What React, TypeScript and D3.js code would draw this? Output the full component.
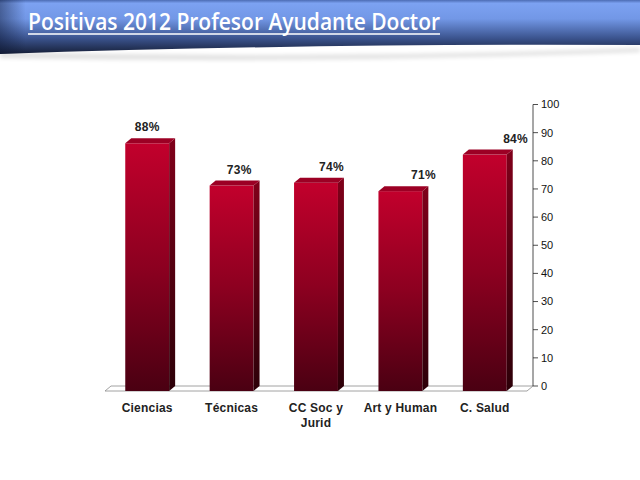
import * as d3 from "d3";

const categories = ["Ciencias", "Técnicas", "CC Soc y|Jurid", "Art y Human", "C. Salud"];
const values = [88, 73, 74, 71, 84];
const labels = ["88%", "73%", "74%", "71%", "84%"];
const yTicks = [0, 10, 20, 30, 40, 50, 60, 70, 80, 90, 100];

const W = 640;
const H = 480;
// floor / plot geometry
const X0 = 105;
const X1 = 527;
const FLOOR_FRONT = 391;
const DX = 6;
const DY = -5;

export default function App() {
  const x = d3
    .scaleBand<string>()
    .domain(categories)
    .range([X0, X1])
    .paddingInner(0.48)
    .paddingOuter(0.24);
  const y = d3.scaleLinear().domain([0, 100]).range([FLOOR_FRONT + DY, 104.5]);
  const bw = x.bandwidth();
  const axisX = X1 + DX;

  return (
    <div style={{ position: "absolute", left: 0, top: 0 }}>
      <svg width={W} height={H} style={{ display: "block", background: "#fff" }}>
        <defs>
          <linearGradient id="hdr" x1="0" y1="0" x2="0" y2="1">
            <stop offset="0" stopColor="#4c6cb4" />
            <stop offset="0.06" stopColor="#7ca2f2" />
            <stop offset="0.35" stopColor="#7297e6" />
            <stop offset="0.7" stopColor="#3c5590" />
            <stop offset="1" stopColor="#161f38" />
          </linearGradient>
          <linearGradient id="hdrL" x1="0" y1="0" x2="1" y2="0">
            <stop offset="0" stopColor="#0a1430" stopOpacity="0.45" />
            <stop offset="0.04" stopColor="#0a1430" stopOpacity="0" />
          </linearGradient>
          <linearGradient id="front" x1="0" y1="0" x2="0" y2="1">
            <stop offset="0" stopColor="#c2002c" />
            <stop offset="0.5" stopColor="#8c0020" />
            <stop offset="1" stopColor="#4a0012" />
          </linearGradient>
          <linearGradient id="side" x1="0" y1="0" x2="0" y2="1">
            <stop offset="0" stopColor="#80001a" />
            <stop offset="1" stopColor="#2c0008" />
          </linearGradient>
          <filter id="shadow" x="-5%" y="-20%" width="110%" height="160%">
            <feGaussianBlur stdDeviation="2" />
          </filter>
        </defs>

        {/* header band */}
        <path
          d="M0,52 Q320,60 640,48 L640,52 Q320,64 0,58 Z"
          fill="#000"
          opacity={0.12}
          filter="url(#shadow)"
        />
        <path d="M0,0 H640 V45 Q330,43 0,54 Z" fill="url(#hdr)" />
        <path d="M0,0 H640 V45 Q330,43 0,54 Z" fill="url(#hdrL)" />
        <text
          x={28}
          y={29.5}
          fill="#fff"
          fontFamily="'Open Sans', 'Noto Sans', sans-serif"
          fontSize={24}
          fontWeight={600}
          textLength={412}
          lengthAdjust="spacingAndGlyphs"
        >
          Positivas 2012 Profesor Ayudante Doctor
        </text>
        <line x1={28} x2={440} y1={34} y2={34} stroke="#fff" strokeWidth={1.5} />

        {/* floor */}
        <path
          d={`M${X0},${FLOOR_FRONT} L${X1},${FLOOR_FRONT} L${X1 + DX},${FLOOR_FRONT + DY} L${X0 + DX},${FLOOR_FRONT + DY} Z`}
          fill="#fff"
          stroke="#8a8a8a"
          strokeWidth={0.8}
        />

        {/* y axis */}
        <line x1={axisX} x2={axisX} y1={y(100)} y2={y(0)} stroke="#222" strokeWidth={0.8} />
        {yTicks.map((t) => (
          <g key={t}>
            <line x1={axisX} x2={axisX + 5} y1={y(t)} y2={y(t)} stroke="#222" strokeWidth={0.8} />
            <text
              x={axisX + 8}
              y={y(t)}
              dy="0.35em"
              fontFamily="'Liberation Sans', Arial, sans-serif"
              fontSize={11}
              fill="#111"
            >
              {t}
            </text>
          </g>
        ))}

        {/* bars */}
        {categories.map((c, i) => {
          const x0 = x(c) ?? 0;
          const top = y(values[i]) - DY;
          return (
            <g key={c}>
              <rect x={x0} y={top} width={bw} height={FLOOR_FRONT - top} fill="url(#front)" />
              <path
                d={`M${x0 + bw},${top} L${x0 + bw + DX},${top + DY} L${x0 + bw + DX},${FLOOR_FRONT + DY} L${x0 + bw},${FLOOR_FRONT} Z`}
                fill="url(#side)"
              />
              <path
                d={`M${x0},${top} L${x0 + DX},${top + DY} L${x0 + bw + DX},${top + DY} L${x0 + bw},${top} Z`}
                fill="#9c0024"
              />
              <text
                x={x0 + bw / 2 + i * 7.7}
                y={y(values[i]) - 7}
                textAnchor="middle"
                fontFamily="'Liberation Sans', Arial, sans-serif"
                fontWeight="bold"
                fontSize={12}
                letterSpacing={0.3}
                fill="#222"
              >
                {labels[i]}
              </text>
              <text
                textAnchor="middle"
                fontFamily="'Liberation Sans', Arial, sans-serif"
                fontWeight="bold"
                fontSize={12}
                letterSpacing={0.2}
                fill="#222"
              >
                {c.split("|").map((line, k) => (
                  <tspan key={k} x={x0 + bw / 2} y={412 + k * 15}>
                    {line}
                  </tspan>
                ))}
              </text>
            </g>
          );
        })}
      </svg>
    </div>
  );
}
